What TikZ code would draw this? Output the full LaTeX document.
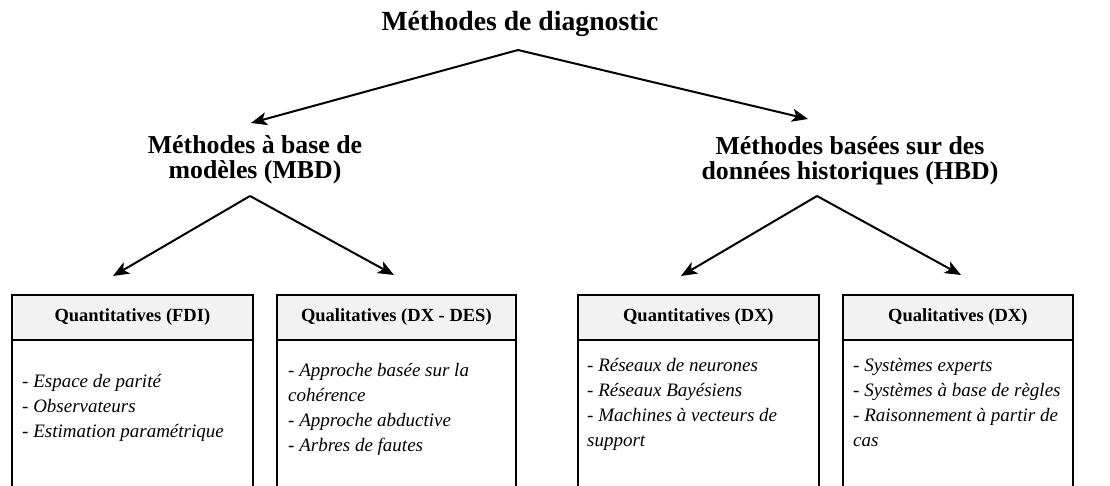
\documentclass[tikz,border=0pt]{standalone}
\usepackage{fontspec}
\setmainfont{Liberation Serif}
\usetikzlibrary{arrows.meta}
\definecolor{hdrgray}{RGB}{242,242,242}
\begin{document}
\begin{tikzpicture}[x=1pt,y=-1pt,
  arr/.style={line width=2pt,-{Stealth[length=16pt,width=13pt,inset=4pt]}},
  titletext/.style={inner sep=0pt,font=\fontsize{27.7}{30}\selectfont\bfseries},
  subtext/.style={inner sep=0pt,align=center,font=\fontsize{25.8}{25.5}\selectfont\bfseries},
  hdr/.style={draw,line width=1.7pt,fill=hdrgray,minimum height=45pt,inner sep=0pt,anchor=north west,font=\fontsize{18.5}{22}\selectfont\bfseries},
  bodybox/.style={draw,line width=1.7pt,inner sep=0pt,minimum height=200pt,anchor=north west},
  items/.style={anchor=north west,inner sep=0pt,align=left,font=\fontsize{19}{25}\selectfont\itshape},
]
\useasboundingbox (0,0) rectangle (1110,486);
\clip (0,0) rectangle (1110,486);

% titles
\node[titletext] (top) at (520,24) {Méthodes de diagnostic};
\node[subtext] (mbd) at (255,160) {Méthodes à base de\\modèles (MBD)};
\node[subtext] (hbd) at (850,161) {Méthodes basées sur des\\données historiques (HBD)};

% boxes
\node[bodybox,minimum width=241pt] (b1) at (11,339) {};
\node[hdr,minimum width=241pt] (h1) at (11,294) {Quantitatives (FDI)};
\node[bodybox,minimum width=239pt] (b2) at (276,339) {};
\node[hdr,minimum width=239pt] (h2) at (276,294) {Qualitatives (DX - DES)};
\node[bodybox,minimum width=241pt] (b3) at (577,339) {};
\node[hdr,minimum width=241pt] (h3) at (577,294) {Quantitatives (DX)};
\node[bodybox,minimum width=230pt] (b4) at (842,339) {};
\node[hdr,minimum width=230pt] (h4) at (842,294) {Qualitatives (DX)};

% lists
\node[items] (l1) at (22,369.5) {\strut- Espace de parité\\- Observateurs\\- Estimation paramétrique};
\node[items] (l2) at (288,358.5) {\strut- Approche basée sur la\\cohérence\\- Approche abductive\\- Arbres de fautes};
\node[items] (l3) at (587,353.5) {\strut- Réseaux de neurones\\- Réseaux Bayésiens\\- Machines à vecteurs de\\support};
\node[items] (l4) at (853,353.5) {\strut- Systèmes experts\\- Systèmes à base de règles\\- Raisonnement à partir de\\cas};

% connector points
\coordinate (a0) at (518,50);
\coordinate (t1) at (251,123);
\coordinate (t2) at (808,119);
\coordinate (a1) at (250,196);
\coordinate (a2) at (817,196);
\coordinate (q1) at (113,276);
\coordinate (q2) at (394,275);
\coordinate (q3) at (681,276);
\coordinate (q4) at (961,275);

\draw[arr] (a0) -- (t1);
\draw[arr] (a0) -- (t2);
\draw[arr] (a1) -- (q1);
\draw[arr] (a1) -- (q2);
\draw[arr] (a2) -- (q3);
\draw[arr] (a2) -- (q4);
\end{tikzpicture}
\end{document}
